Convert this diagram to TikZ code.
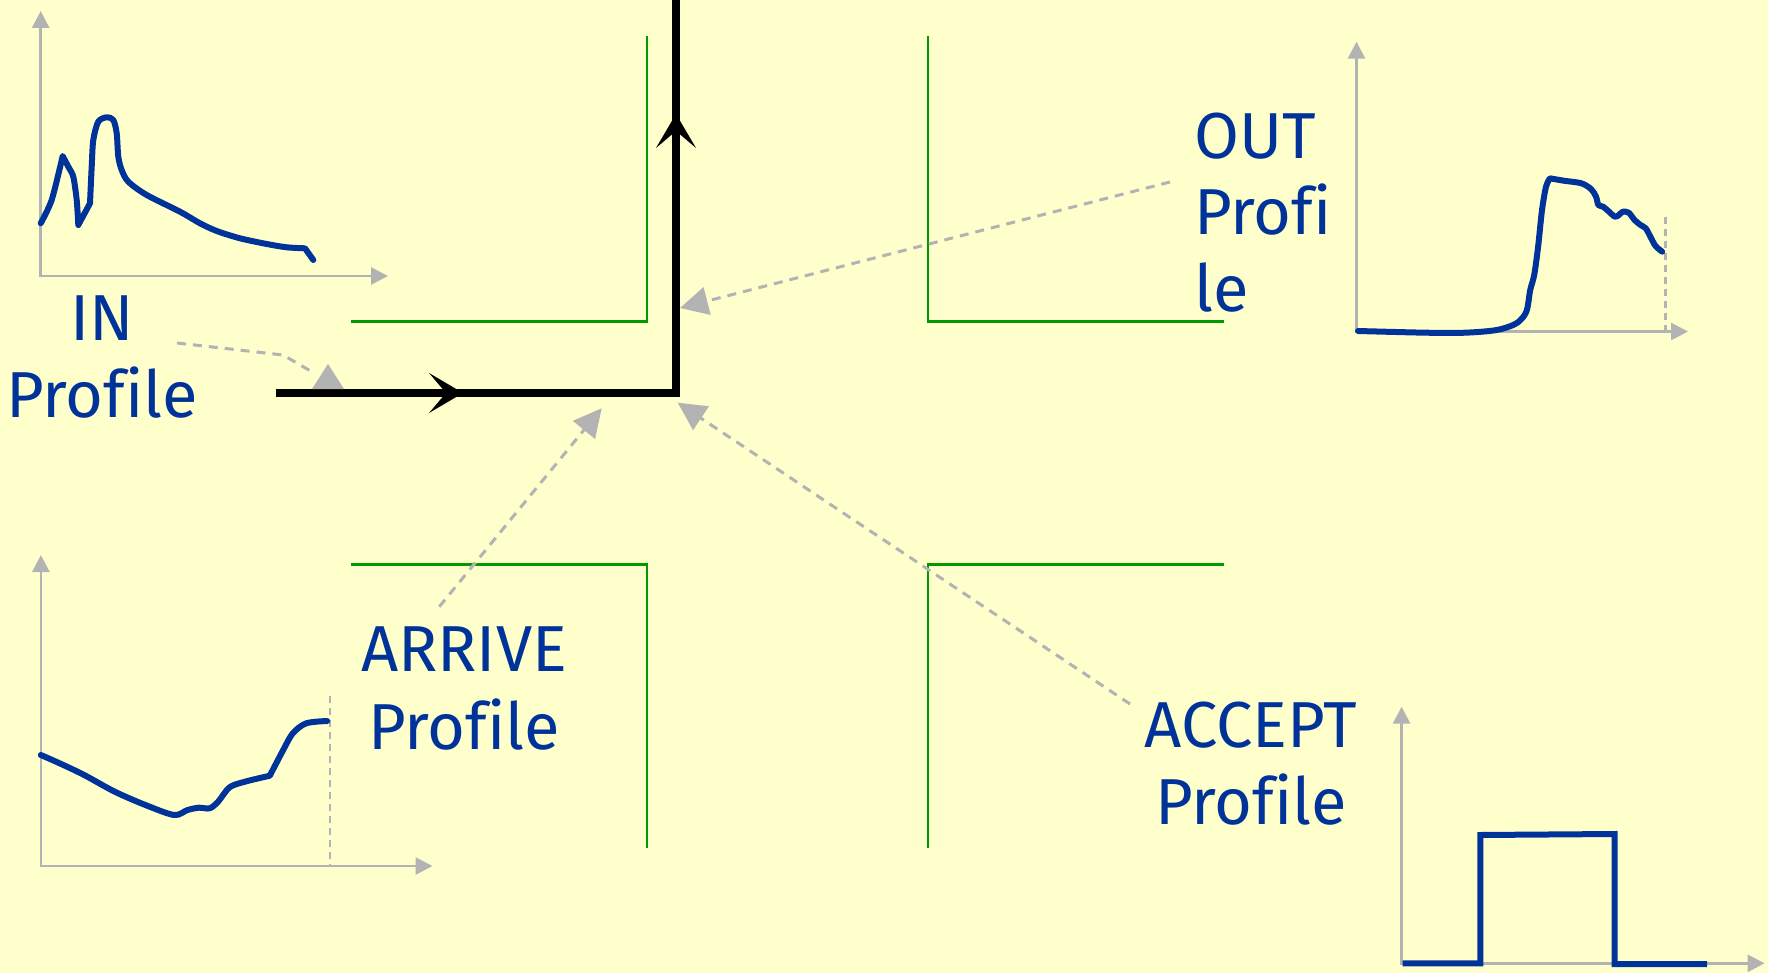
\documentclass[tikz,border=0pt]{standalone}
\usepackage{fontspec}
\setmainfont[Ligatures=NoCommon]{Fira Sans}
\usetikzlibrary{arrows.meta}
\definecolor{bgc}{HTML}{FFFFCC}
\definecolor{blueC}{HTML}{003399}
\definecolor{grayC}{HTML}{B3B3B3}
\definecolor{greenC}{HTML}{009900}
\begin{document}
\begin{tikzpicture}[x=1pt,y=-1pt,
  lbl/.style={text=blueC, font=\fontsize{65}{77}\selectfont, inner sep=0pt},
  axis/.style={draw=grayC, line width=2.8pt, {Triangle[length=17pt,width=17pt]}-{Triangle[length=17pt,width=17pt]}},
  guide/.style={draw=grayC, line width=2.2pt, dash pattern=on 7pt off 5pt},
  prof/.style={draw=blueC, line width=6pt, line cap=round, line join=round},
  wall/.style={draw=greenC, line width=2.4pt},
  ptrline/.style={draw=grayC, line width=3pt, dash pattern=on 9pt off 7pt},
  ptr/.style={ptrline, -{Triangle[length=28pt,width=28pt]}},
  flow/.style={draw=black, line width=8pt, line join=miter},
]
\useasboundingbox (0,0) rectangle (1768,973);
\fill[bgc] (0,0) rectangle (1768,973);

% green walls
\draw[wall] (351,321.5) -- (647,321.5) -- (647,36.5);
\draw[wall] (928,36.5) -- (928,321.5) -- (1224,321.5);
\draw[wall] (351,564.3) -- (646.7,564.3) -- (646.7,848);
\draw[wall] (1224,564.3) -- (928,564.3) -- (928,848);

% black flow path
\coordinate (fStart) at (276,393);
\coordinate (fCorner) at (676,393);
\coordinate (fEnd) at (676,0);
\draw[flow] (fStart) -- (fCorner) -- (fEnd);
\fill[black] (463,393) -- (429,413) -- (446,393) -- (429,373) -- cycle;
\fill[black] (676,114) -- (656,148) -- (676,131) -- (696,148) -- cycle;

% IN chart
\draw[axis] (40.7,11) -- (40.7,276) -- (388,276);
\draw[prof] plot[smooth, tension=0.45] coordinates {(40.7,223.3) (51.7,200) (62.7,156)}
  -- plot[smooth, tension=0.45] coordinates {(62.7,156) (68.3,166.7) (73.3,176.7) (76.7,200) (78.3,225)}
  -- plot[smooth, tension=0.45] coordinates {(78.3,225) (90,203.3)}
  -- plot[smooth, tension=0.5] coordinates {(90,203.3) (91.7,166.7) (93.3,140) (98.3,121.7) (106.7,117.3) (113.3,120) (116.7,133.3) (118.3,156.7) (121.7,170) (128.3,181.7) (146.7,195) (180,211.7) (200,223.3) (216.7,231) (240,238.3) (266.7,244) (286.7,247.3) (305,248.3)}
  -- (313.3,260);

% OUT chart
\draw[axis] (1356.5,41.7) -- (1356.5,331.5) -- (1688,331.5);
\draw[guide] (1665.5,217) -- (1665.5,331.5);
\draw[prof] plot[smooth, tension=0.5] coordinates {(1358,331) (1425.8,332.7) (1465.2,332.7) (1496.7,330) (1516.4,323.3) (1526.3,311.7) (1530.2,290) (1534.2,275) (1538.1,246.7) (1542,210) (1546,186.7) (1549.9,178.3)}
  -- plot[smooth, tension=0.5] coordinates {(1549.9,178.3) (1563.7,180.7) (1581.4,183.3) (1591.3,189.3) (1596,196.7) (1598.4,205) (1603.1,206.7) (1609,211.7) (1614.9,216.7) (1618.9,215) (1622.8,211.7) (1628.7,212.7) (1634.6,220) (1640.5,225) (1645.7,228.3) (1650.4,236.7) (1655.5,246) (1662.2,251.7)};

% ARRIVE chart
\draw[axis] (40.9,555) -- (40.9,866) -- (432.5,866);
\draw[guide] (330,696) -- (330,866);
\draw[prof] plot[smooth, tension=0.5] coordinates {(40.9,755) (61.2,764) (84.2,775) (114.8,791.7) (145.4,805) (174.1,815) (187.5,810) (199,807.7) (209.7,808.3) (218.1,801.7) (229.6,787.3) (244.9,781.7) (269.8,775.7)}
  -- plot[smooth, tension=0.5] coordinates {(269.8,775.7) (283.2,750) (292.8,733.3) (306.2,723.3) (327.2,721)};

% ACCEPT chart
\draw[axis] (1401.6,706.7) -- (1401.6,963.3) -- (1764.6,963.3);
\draw[prof, line cap=butt, line join=miter] (1402.5,963.3) -- (1480.4,963.3) -- (1480.4,835) -- (1614.6,834) -- (1614.6,964) -- (1707,964);

% labels
\node[lbl, anchor=base] (inA) at (102,340) {IN};
\node[lbl, anchor=base] (inB) at (102,417) {Profile};
\node[lbl, anchor=base west] (outA) at (1194,158.3) {OUT};
\node[lbl, anchor=base west] (outB) at (1194,234.3) {Profi};
\node[lbl, anchor=base west] (outC) at (1194,311.7) {le};
\node[lbl, anchor=base] (arrA) at (464,671.7) {ARRIVE};
\node[lbl, anchor=base] (arrB) at (464,749.3) {Profile};
\node[lbl, anchor=base] (accA) at (1251,747.7) {ACCEPT};
\node[lbl, anchor=base] (accB) at (1251,824.3) {Profile};

% pointers
\coordinate (inTail) at (177,343);
\coordinate (inBend) at (283,355);
\coordinate (inEnd) at (314,373);
\draw[ptrline] (inTail) -- (inBend) -- (inEnd);
\fill[grayC] (312,389) -- (328,364) -- (344,389) -- cycle;

\coordinate (arrTail) at (439.3,606.7);
\coordinate (arrTip) at (601.7,408.3);
\draw[ptr] (arrTail) -- (arrTip);

\coordinate (accTail) at (1130,704);
\coordinate (accTip) at (677.7,402.7);
\draw[ptr] (accTail) -- (accTip);

\coordinate (outTail) at (1170,182);
\coordinate (outTip) at (680,308);
\draw[ptr] (outTail) -- (outTip);
\end{tikzpicture}
\end{document}
